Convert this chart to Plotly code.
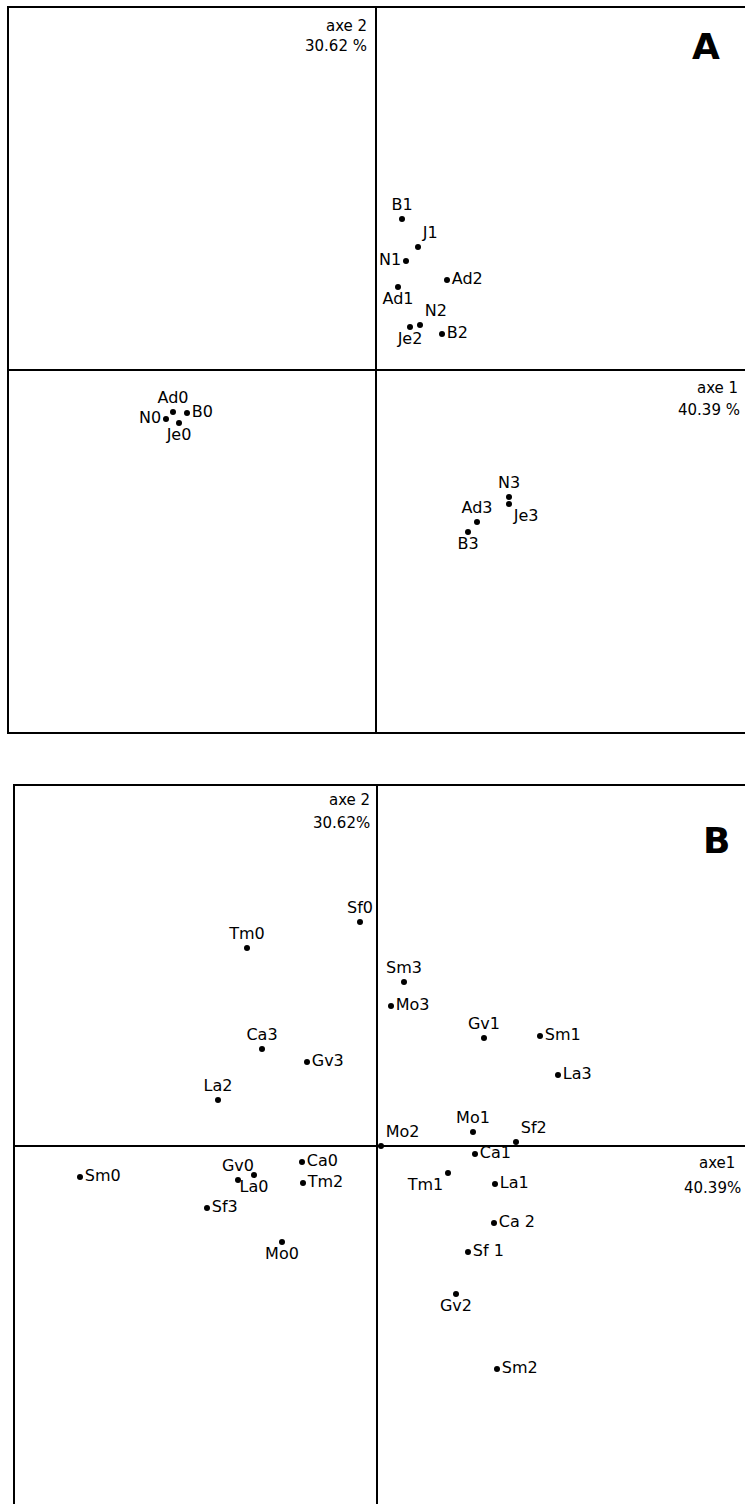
import plotly.graph_objects as go

# ---- Panel A : factor scores of the samples (axe 1 / axe 2) ----
a_labels = ["Ad0", "B0", "N0", "Je0",
            "B1", "J1", "N1", "Ad1",
            "Ad2", "N2", "Je2", "B2",
            "N3", "Je3", "Ad3", "B3"]
a_axe1 = [-2.03, -1.89, -2.10, -1.97,
          0.26, 0.42, 0.30, 0.22,
          0.71, 0.44, 0.34, 0.66,
          1.33, 1.33, 1.01, 0.92]
a_axe2 = [-0.42, -0.43, -0.49, -0.53,
          1.51, 1.23, 1.09, 0.83,
          0.90, 0.45, 0.43, 0.36,
          -1.27, -1.34, -1.52, -1.62]

# ---- Panel B : factor scores of the species x stage ----
b_labels = ["Sf0", "Tm0", "Sm3", "Mo3", "Gv1", "Sm1", "Ca3", "Gv3",
            "La3", "La2", "Mo1", "Mo2", "Sf2", "Ca1", "Ca0", "Tm1",
            "La1", "Ca 2", "Sf 1", "Gv2", "Sm2", "Sm0", "Gv0", "La0",
            "Tm2", "Sf3", "Mo0"]
b_axe1 = [-0.17, -1.30, 0.27, 0.14, 1.07, 1.63, -1.15, -0.70,
          1.81, -1.59, 0.96, 0.04, 1.39, 0.98, -0.75, 0.71,
          1.18, 1.17, 0.91, 0.79, 1.20, -2.97, -1.39, -1.23,
          -0.74, -1.70, -0.95]
b_axe2 = [2.24, 1.98, 1.64, 1.40, 1.08, 1.10, 0.97, 0.84,
          0.71, 0.46, 0.14, 0.00, 0.04, -0.08, -0.16, -0.27,
          -0.38, -0.77, -1.06, -1.48, -2.23, -0.31, -0.34, -0.29,
          -0.37, -0.62, -0.96]

# label placement around each dot
a_pos = ["top center", "middle right", "middle left", "bottom center",
         "top center", "top right", "middle left", "bottom center",
         "middle right", "top right", "bottom center", "middle right",
         "top center", "bottom right", "top center", "bottom center"]
b_pos = ["top center", "top center", "top center", "middle right",
         "top center", "middle right", "top center", "middle right",
         "middle right", "top center", "top center", "top right",
         "top right", "middle right", "middle right", "bottom left",
         "middle right", "middle right", "middle right", "bottom center",
         "middle right", "middle right", "top center", "bottom center",
         "middle right", "middle right", "bottom center"]

W, H = 745, 1504
LABEL_FONT = dict(family="DejaVu Sans", size=16, color="black")

fig = go.Figure()
fig.add_trace(go.Scatter(
    x=a_axe1, y=a_axe2, mode="markers+text", text=a_labels,
    textposition=a_pos, textfont=LABEL_FONT,
    marker=dict(size=6, color="black"), xaxis="x", yaxis="y",
    cliponaxis=False, hoverinfo="skip"))
fig.add_trace(go.Scatter(
    x=b_axe1, y=b_axe2, mode="markers+text", text=b_labels,
    textposition=b_pos, textfont=LABEL_FONT,
    marker=dict(size=6, color="black"), xaxis="x2", yaxis="y2",
    cliponaxis=False, hoverinfo="skip"))

common = dict(showgrid=False, showticklabels=False, ticks="",
              zeroline=True, zerolinecolor="black", zerolinewidth=2,
              linecolor="black", linewidth=2, fixedrange=True)

fig.update_layout(
    width=W, height=H, margin=dict(l=0, r=0, t=0, b=0),
    paper_bgcolor="white", plot_bgcolor="white", showlegend=False,
    xaxis=dict(domain=[9 / W, 1.0], range=[-3.67, 3.69],
               showline=True, mirror=True, anchor="y", **common),
    yaxis=dict(domain=[1 - 732 / H, 1 - 8 / H], range=[-3.62, 3.62],
               showline=True, mirror=False, anchor="x", **common),
    xaxis2=dict(domain=[15 / W, 1.0], range=[-3.62, 3.68], side="top",
                showline=True, mirror=False, anchor="y2", **common),
    yaxis2=dict(domain=[0.0, 1 - 786 / H], range=[-3.58, 3.60],
                showline=True, mirror=False, anchor="x2", **common),
)

TXT = dict(family="DejaVu Sans", size=15, color="black")
BIG = dict(family="DejaVu Sans", size=36, color="black")

notes = [
    # panel A
    dict(x=-0.07, y=3.44, text="axe 2", xref="x", yref="y", xanchor="right", font=TXT),
    dict(x=-0.07, y=3.24, text="30.62 %", xref="x", yref="y", xanchor="right", font=TXT),
    dict(x=3.30, y=3.24, text="<b>A</b>", xref="x", yref="y", xanchor="center", font=BIG),
    dict(x=3.64, y=-0.18, text="axe 1", xref="x", yref="y", xanchor="right", font=TXT),
    dict(x=3.66, y=-0.40, text="40.39 %", xref="x", yref="y", xanchor="right", font=TXT),
    # panel B
    dict(x=-0.05, y=3.46, text="axe 2", xref="x2", yref="y2", xanchor="right", font=TXT),
    dict(x=-0.05, y=3.23, text="30.62%", xref="x2", yref="y2", xanchor="right", font=TXT),
    dict(x=3.39, y=3.06, text="<b>B</b>", xref="x2", yref="y2", xanchor="center", font=BIG),
    dict(x=3.60, y=-0.17, text="axe1", xref="x2", yref="y2", xanchor="right", font=TXT),
    dict(x=3.66, y=-0.42, text="40.39%", xref="x2", yref="y2", xanchor="right", font=TXT),
]
for n in notes:
    fig.add_annotation(showarrow=False, yanchor="middle", **n)

fig.write_html("out.html")
